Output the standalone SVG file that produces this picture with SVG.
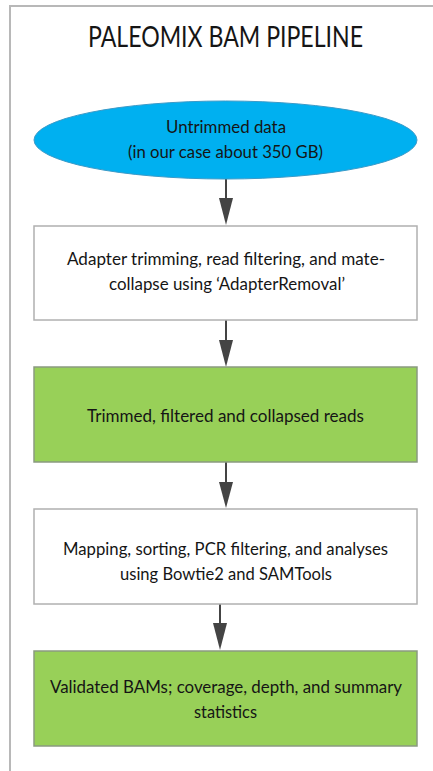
<svg xmlns="http://www.w3.org/2000/svg" width="433" height="771" viewBox="0 0 433 771">
<defs>
<style>
.t{font-family:Lato,"Open Sans","Liberation Sans",sans-serif;font-size:17px;fill:#151515;text-anchor:middle}
.box{fill:#ffffff;stroke:#b0b0b0;stroke-width:1.5}
.green{fill:#98d058;stroke:#8a9a80;stroke-width:1.5}
.conn{stroke:#444;stroke-width:2;fill:none}
.head{fill:#444}
</style>
</defs>
<rect width="433" height="771" fill="#ffffff"/>
<g id="frame">
<path d="M10 771 V6 H433" fill="none" stroke="#b8b8b8" stroke-width="2"/>
</g>
<g id="title">
<text x="225.5" y="47" font-family="Lato,'Open Sans','Liberation Sans',sans-serif" font-size="28" fill="#151515" text-anchor="middle" textLength="275" lengthAdjust="spacingAndGlyphs">PALEOMIX BAM PIPELINE</text>
</g>
<g id="connectors">
<line class="conn" x1="226" y1="179" x2="226" y2="200"/>
<polygon class="head" points="219,198 233,198 226,225"/>
<line class="conn" x1="226" y1="320" x2="226" y2="342"/>
<polygon class="head" points="219,340 233,340 226,367"/>
<line class="conn" x1="226" y1="462" x2="226" y2="484"/>
<polygon class="head" points="219,482 233,482 226,508"/>
<line class="conn" x1="220" y1="604" x2="220" y2="625"/>
<polygon class="head" points="213,623 227,623 220,650"/>
</g>
<g id="n1">
<ellipse cx="225.5" cy="140" rx="191.5" ry="39" fill="#00b0f0" stroke="#3a9ac8" stroke-width="1"/>
<text class="t" x="226" y="133" textLength="120" lengthAdjust="spacingAndGlyphs">Untrimmed data</text>
<text class="t" x="225.5" y="158" textLength="195" lengthAdjust="spacingAndGlyphs">(in our case about 350 GB)</text>
</g>
<g id="n2">
<rect class="box" x="34" y="226" width="383" height="94"/>
<text class="t" x="226" y="265" textLength="318" lengthAdjust="spacingAndGlyphs">Adapter trimming, read filtering, and mate-</text>
<text class="t" x="227" y="290" textLength="236" lengthAdjust="spacingAndGlyphs">collapse using ‘AdapterRemoval’</text>
</g>
<g id="n3">
<rect class="green" x="34" y="367" width="383" height="95"/>
<text class="t" x="225.5" y="422" textLength="277" lengthAdjust="spacingAndGlyphs">Trimmed, filtered and collapsed reads</text>
</g>
<g id="n4">
<rect class="box" x="34" y="509" width="383" height="95"/>
<text class="t" x="225.5" y="555" textLength="325" lengthAdjust="spacingAndGlyphs">Mapping, sorting, PCR filtering, and analyses</text>
<text class="t" x="226" y="580" textLength="212" lengthAdjust="spacingAndGlyphs">using Bowtie2 and SAMTools</text>
</g>
<g id="n5">
<rect class="green" x="34" y="651" width="383" height="95"/>
<text class="t" x="226" y="693" textLength="352" lengthAdjust="spacingAndGlyphs">Validated BAMs; coverage, depth, and summary</text>
<text class="t" x="225.5" y="718" textLength="63" lengthAdjust="spacingAndGlyphs">statistics</text>
</g>
</svg>
